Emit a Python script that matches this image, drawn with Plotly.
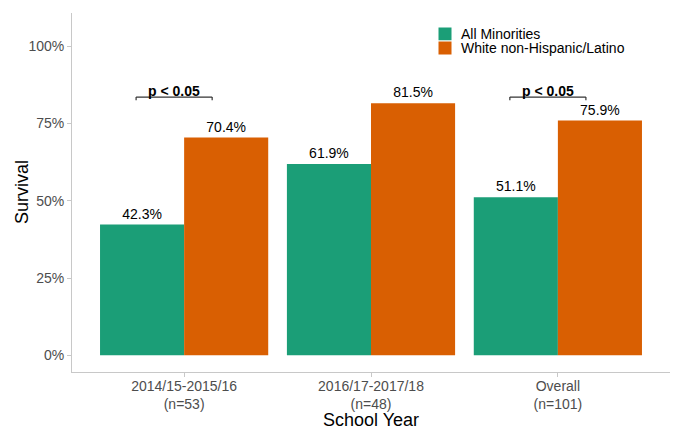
import plotly.graph_objects as go

categories = ["2014/15-2015/16<br>(n=53)", "2016/17-2017/18<br>(n=48)", "Overall<br>(n=101)"]
minorities = [0.423, 0.619, 0.511]
white = [0.704, 0.815, 0.759]
series_names = ["All Minorities", "White non-Hispanic/Latino"]
colors = ["#1B9E77", "#D95F02"]
sig_groups = [0, 2]
sig_label = "p < 0.05"
y_ticks = [0, 0.25, 0.5, 0.75, 1.0]
y_ticklabels = ["0%", "25%", "50%", "75%", "100%"]
x_title = "School Year"
y_title = "Survival"

FONT = "Liberation Sans, Arial"
xs = list(range(len(categories)))
fig = go.Figure()
for name, vals, col in zip(series_names, [minorities, white], colors):
    fig.add_trace(go.Bar(
        x=xs, y=vals, name=name, marker=dict(color=col, line=dict(width=0)),
        text=[f"{v*100:.1f}%" for v in vals], textposition="outside",
        textfont=dict(size=14, color="black", family=FONT),
        cliponaxis=False, showlegend=False,
    ))

for g in sig_groups:
    x0, x1 = g - 0.257, g + 0.15
    yl, yt = 0.835, 0.825
    fig.add_shape(type="line", x0=x0, x1=x1, y0=yl, y1=yl, xref="x", yref="y",
                  line=dict(color="#333333", width=1.2))
    for xe in (x0, x1):
        fig.add_shape(type="line", x0=xe, x1=xe, y0=yl, y1=yt, xref="x", yref="y",
                      line=dict(color="#333333", width=1.2))
    fig.add_annotation(x=(x0 + x1) / 2, y=yl, text=f"<b>{sig_label}</b>", showarrow=False,
                       yanchor="bottom", yshift=-4,
                       font=dict(size=14, color="black", family=FONT))

# pixel helpers (paper coords)
W, H = 676, 427
L, R, T, B = 72, 6, 13, 55
pw, ph = W - L - R, H - T - B
def px(x):
    return (x - L) / pw
def py(y):
    return (H - B - y) / ph

# legend
for i, (name, col) in enumerate(zip(series_names, colors)):
    top = 27 + i * 14
    fig.add_shape(type="rect", xref="paper", yref="paper",
                  x0=px(438), x1=px(452), y0=py(top), y1=py(top + 14),
                  fillcolor=col, line=dict(color="white", width=1))
    fig.add_annotation(xref="paper", yref="paper", x=px(459), y=py(top + 7),
                       text=name, showarrow=False, xanchor="left", yanchor="middle",
                       font=dict(size=14, color="black", family=FONT))

# axis titles
fig.add_annotation(xref="paper", yref="paper", x=px(371), y=py(420), text=x_title,
                   showarrow=False, xanchor="center", yanchor="middle",
                   font=dict(size=18, color="black", family=FONT))
fig.add_annotation(xref="paper", yref="paper", x=px(22), y=py(192), text=y_title,
                   showarrow=False, xanchor="center", yanchor="middle", textangle=-90,
                   font=dict(size=18, color="black", family=FONT))

fig.update_layout(
    width=W, height=H,
    margin=dict(l=L, r=R, t=T, b=B, autoexpand=False),
    plot_bgcolor="white", paper_bgcolor="white",
    barmode="group", bargap=0.1, bargroupgap=0,
    font=dict(family=FONT, color="black"),
    showlegend=False,
    xaxis=dict(
        range=[-0.6, 2.6], tickmode="array", tickvals=xs, ticktext=categories,
        showline=True, linecolor="#C8C8C8", linewidth=1, ticks="outside", ticklen=4,
        tickcolor="#C8C8C8", showgrid=False, zeroline=False, automargin=False,
        tickfont=dict(size=14, color="#4D4D4D"), ticklabelstandoff=-3,
    ),
    yaxis=dict(
        range=[-0.054, 1.107], tickmode="array", tickvals=y_ticks, ticktext=y_ticklabels,
        showline=True, linecolor="#C8C8C8", linewidth=1, ticks="outside", ticklen=4,
        tickcolor="#C8C8C8", showgrid=False, zeroline=False, automargin=False,
        tickfont=dict(size=14, color="#4D4D4D"),
    ),
)
fig.write_html("out.html", config={"displayModeBar": False},
               post_script="document.body.style.margin='0';")
